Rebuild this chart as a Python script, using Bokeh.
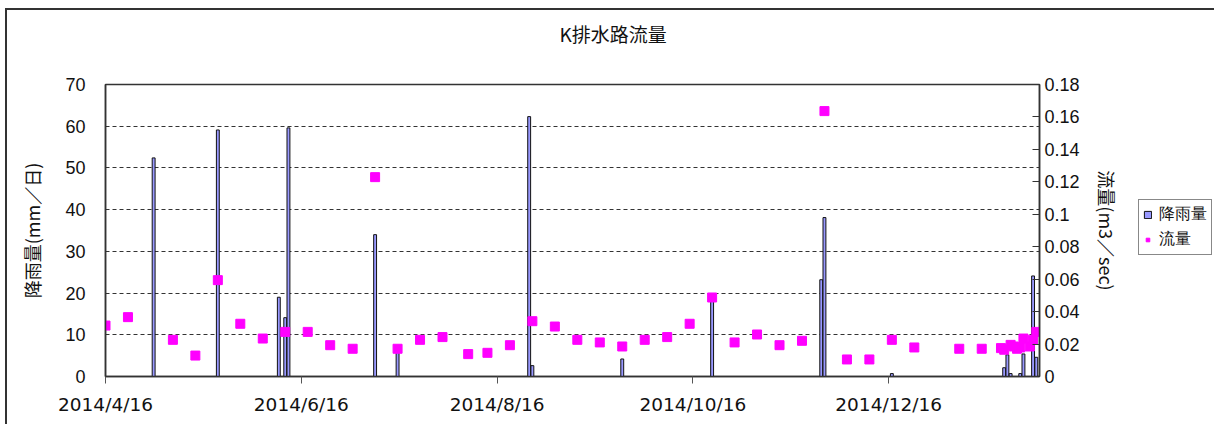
from datetime import datetime
from bokeh.plotting import figure
from bokeh.layouts import row
from bokeh.models import (Range1d, LinearAxis, FixedTicker, CustomJSTickFormatter,
                          Legend, LegendItem, Title)
from bokeh.embed import file_html
from bokeh.resources import INLINE

# ---------------- data ----------------
title_text = "K排水路流量"
left_label = "降雨量(mm／日)"
right_label = "流量(m3／sec)"
rain_name = "降雨量"
flow_name = "流量"

rain_dates = ["2014-05-01", "2014-05-21", "2014-06-09", "2014-06-11", "2014-06-12",
              "2014-07-09", "2014-07-16", "2014-08-26", "2014-08-27", "2014-09-24",
              "2014-10-22", "2014-11-25", "2014-11-26", "2014-12-17", "2015-01-21",
              "2015-01-22", "2015-01-23", "2015-01-26", "2015-01-27", "2015-01-30",
              "2015-01-31"]
rain_mm = [52.4, 59.1, 19.0, 14.1, 59.6,
           34.0, 6.0, 62.3, 2.6, 4.2,
           19.0, 23.2, 38.1, 0.7, 2.1,
           5.2, 0.7, 0.7, 5.4, 24.1,
           4.6]

flow_dates = ["2014-04-16", "2014-04-23", "2014-05-07", "2014-05-14", "2014-05-21",
              "2014-05-28", "2014-06-04", "2014-06-11", "2014-06-18", "2014-06-25",
              "2014-07-02", "2014-07-09", "2014-07-16", "2014-07-23", "2014-07-30",
              "2014-08-07", "2014-08-13", "2014-08-20", "2014-08-27", "2014-09-03",
              "2014-09-10", "2014-09-17", "2014-09-24", "2014-10-01", "2014-10-08",
              "2014-10-15", "2014-10-22", "2014-10-29", "2014-11-05", "2014-11-12",
              "2014-11-19", "2014-11-26", "2014-12-03", "2014-12-10", "2014-12-17",
              "2014-12-24", "2015-01-07", "2015-01-14", "2015-01-20", "2015-01-21",
              "2015-01-23", "2015-01-24", "2015-01-25", "2015-01-26", "2015-01-27",
              "2015-01-29", "2015-01-30", "2015-01-31"]
flow_m3s = [0.0314, 0.0366, 0.0226, 0.0129, 0.0594,
            0.0325, 0.0234, 0.0275, 0.0275, 0.0193,
            0.0171, 0.1229, 0.0171, 0.0226, 0.0243,
            0.0138, 0.0146, 0.0193, 0.0341, 0.0308,
            0.0226, 0.0210, 0.0185, 0.0226, 0.0243,
            0.0325, 0.0487, 0.0210, 0.0259, 0.0193,
            0.0220, 0.1636, 0.0105, 0.0105, 0.0226,
            0.0179, 0.0171, 0.0171, 0.0175, 0.0165,
            0.0195, 0.0185, 0.0171, 0.0179, 0.0234,
            0.0185, 0.0226, 0.0275]

x_tick_dates = ["2014-04-16", "2014-06-16", "2014-08-16", "2014-10-16", "2014-12-16"]
left_ticks = [0, 10, 20, 30, 40, 50, 60, 70]
right_ticks = [0, 0.02, 0.04, 0.06, 0.08, 0.1, 0.12, 0.14, 0.16, 0.18]

# ---------------- helpers ----------------
def d(s):
    return datetime.strptime(s, "%Y-%m-%d")

def ms(s):
    return (d(s) - datetime(1970, 1, 1)).total_seconds() * 1000.0

DAY = 86400000.0
NAN = float("nan")
rx = [d(s) for s in rain_dates]
fx = [d(s) for s in flow_dates]

# ---------------- main figure ----------------
W, H = 1120, 416
FL, FT, FR, FB = 98, 74, 1032, 366   # frame edges in figure pixels
p = figure(width=W, height=H, x_axis_type="datetime",
           x_range=Range1d(d("2014-04-16"), d("2015-02-01")),
           y_range=Range1d(0, 70),
           output_backend="svg", toolbar_location=None,
           min_border_left=FL, min_border_top=FT,
           min_border_right=W - FR, min_border_bottom=H - FB)
p.styles = {"border-top": "2px solid #333", "border-left": "2px solid #333",
            "margin-left": "5px", "margin-top": "8px"}
p.extra_y_ranges = {"flow": Range1d(0, 0.18)}
p.title.text = ""

# blank spacer next to the frame, then the title above it
spacer_t = Title(text=" ", text_color="white", text_font_size="10px", standoff=25)
main_t = Title(text=title_text, align="left", offset=454, standoff=0,
               vertical_align="bottom", text_font="Noto Sans CJK JP",
               text_font_size="19px", text_font_style="normal", text_color="#111111")
p.add_layout(spacer_t, "above")
p.add_layout(main_t, "above")

p.outline_line_color = "#333333"
p.outline_line_width = 1.5
p.background_fill_color = "white"
p.border_fill_color = "white"

# grid
p.xgrid.grid_line_color = None
p.ygrid.grid_line_color = "#333333"
p.ygrid.grid_line_dash = "4 3"
p.ygrid.grid_line_width = 1

# x axis
xa = p.xaxis[0]
xa.ticker = FixedTicker(ticks=[ms(s) for s in x_tick_dates])
xa.formatter = CustomJSTickFormatter(code="""
const d = new Date(tick);
return d.getUTCFullYear() + '/' + (d.getUTCMonth() + 1) + '/' + d.getUTCDate();
""")
xa.major_tick_out = 7
xa.major_tick_in = 0
xa.minor_tick_out = 0
xa.minor_tick_in = 0
xa.major_label_standoff = 10
xa.major_label_text_font = "DejaVu Sans"
xa.major_label_text_font_size = "18.5px"
xa.major_label_text_color = "#111111"
xa.axis_line_color = "#333333"
xa.axis_line_width = 1.5
xa.major_tick_line_color = "#555555"

# left axis
ya = p.yaxis[0]
ya.ticker = FixedTicker(ticks=left_ticks)
ya.major_tick_out = 0
ya.major_tick_in = 0
ya.minor_tick_out = 0
ya.minor_tick_in = 0
ya.major_label_standoff = 20
ya.major_label_text_font = "Liberation Sans"
ya.major_label_text_font_size = "18px"
ya.major_label_text_color = "#111111"
ya.axis_line_color = "#333333"
ya.axis_line_width = 1.5
ya.axis_label = left_label
ya.axis_label_text_font = "Noto Sans CJK JP"
ya.axis_label_text_font_size = "18px"
ya.axis_label_text_font_style = "normal"
ya.axis_label_standoff = 17
ya.axis_label_text_color = "#111111"

# right axis
ra = LinearAxis(y_range_name="flow")
ra.ticker = FixedTicker(ticks=right_ticks)
ra.formatter = CustomJSTickFormatter(code="return parseFloat(tick.toFixed(2)).toString();")
ra.major_tick_out = 0
ra.major_tick_in = 7
ra.minor_tick_out = 0
ra.minor_tick_in = 0
ra.major_label_standoff = 5
ra.major_label_text_font = "Liberation Sans"
ra.major_label_text_font_size = "18px"
ra.major_label_text_color = "#111111"
ra.axis_line_color = "#333333"
ra.axis_line_width = 1.5
ra.major_tick_line_color = "#333333"
ra.axis_label = right_label
ra.axis_label_text_font = "Noto Sans CJK JP"
ra.axis_label_text_font_size = "18px"
ra.axis_label_text_font_style = "normal"
ra.axis_label_standoff = 11
ra.axis_label_text_color = "#111111"
p.add_layout(ra, "right")

# glyphs
bar_style = dict(fill_color="#9999FF", line_color="#111111", line_width=1)
pt_style = dict(marker="square", size=9, fill_color="#FF00FF", line_color="#FF00FF")
bars = p.vbar(x=rx, top=rain_mm, bottom=0, width=DAY * 0.9, **bar_style)
pts = p.scatter(x=fx, y=flow_m3s, y_range_name="flow", **pt_style)

# ---------------- legend panel (right of the chart) ----------------
LW = 1216 - (7 + W)
q = figure(width=LW, height=H, x_range=Range1d(0, 1), y_range=Range1d(0, 1),
           x_axis_location=None, y_axis_location=None,
           output_backend="svg", toolbar_location=None,
           min_border_left=0, min_border_right=0, min_border_top=0, min_border_bottom=0)
q.styles = {"border-top": "2px solid #333", "margin-top": "8px"}
q.title.text = ""
q.grid.visible = False
q.outline_line_color = None
q.background_fill_color = "white"
q.border_fill_color = "white"
# legend-only renderers: same styles, no drawable data
kb = q.vbar(x=[0.5], top=[NAN], bottom=0, width=0.1, **bar_style)
kp = q.scatter(x=[0.5], y=[NAN], **pt_style)

# q's frame is aligned with the chart frame (left edge = chart's right edge)
legend = Legend(items=[LegendItem(label=rain_name, renderers=[kb]),
                       LegendItem(label=flow_name, renderers=[kp])],
                location=(13, 121))
legend.label_text_font = "Liberation Sans"
legend.label_text_font_size = "16px"
legend.label_text_color = "#111111"
legend.glyph_width = 9
legend.glyph_height = 9
legend.label_height = 20
legend.label_standoff = 7
legend.spacing = 4
legend.padding = 4
legend.margin = 0
legend.border_line_color = "#111111"
legend.border_line_width = 1
legend.background_fill_color = "white"
legend.background_fill_alpha = 1.0
q.add_layout(legend, "center")

layout = row(p, q)
open("out.html", "w").write(file_html(layout, INLINE))
